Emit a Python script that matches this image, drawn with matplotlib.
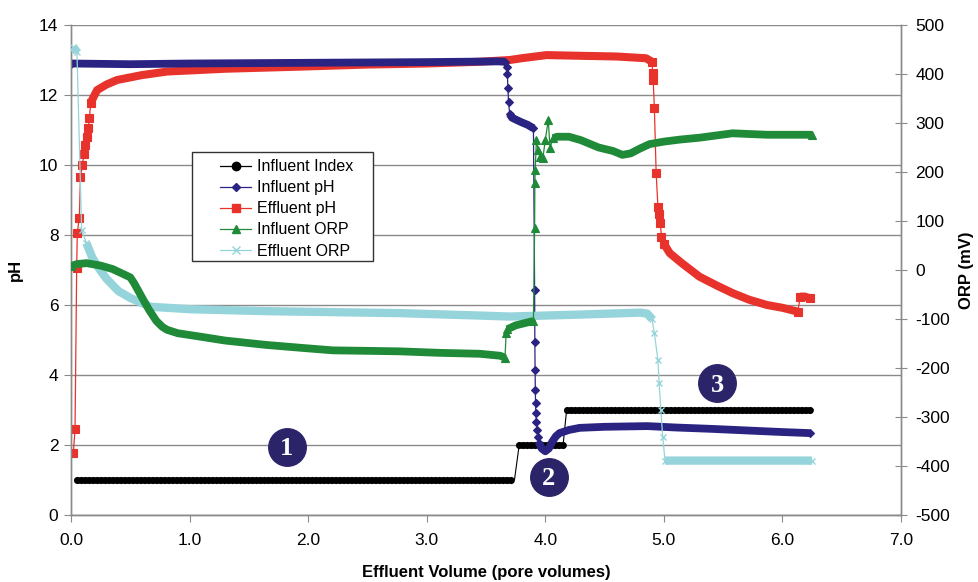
import numpy as np
import matplotlib
matplotlib.use("Agg")
import matplotlib.pyplot as plt
from matplotlib.lines import Line2D
from matplotlib.patches import Rectangle

plt.rcParams['font.family'] = ['Liberation Sans', 'DejaVu Sans']
plt.rcParams['axes.unicode_minus'] = False

# ---------------- data ----------------
# Influent Index: runs of constant value
idx_start = [0.05, 3.78, 4.18]
idx_end = [3.74, 4.15, 6.26]
idx_val = [1, 2, 3]

# Influent pH
inf_ph_x = [0.0, 0.5, 1.0, 2.0, 3.0, 3.6, 3.66, 3.675, 3.68, 3.685, 3.69, 3.70, 3.72, 3.75,
            3.80, 3.85, 3.90, 3.91, 3.912, 3.914, 3.916, 3.918, 3.92, 3.925, 3.93, 3.94,
            3.95, 3.97, 4.0, 4.03, 4.06, 4.09, 4.12, 4.2, 4.29, 4.5, 4.86, 5.1, 5.41,
            5.8, 6.0, 6.23]
inf_ph_y = [12.9, 12.88, 12.9, 12.92, 12.94, 12.96, 12.95, 12.8, 12.6, 12.2, 11.8, 11.45,
            11.35, 11.3, 11.22, 11.15, 11.05, 6.43, 4.95, 4.14, 3.57, 3.2, 2.91, 2.67, 2.43,
            2.24, 2.05, 1.9, 1.82, 1.9, 2.1, 2.25, 2.34, 2.43, 2.49, 2.52, 2.54, 2.5, 2.46,
            2.4, 2.37, 2.34]

# Effluent pH
eff_ph_x = [0.02, 0.034, 0.048, 0.053, 0.07, 0.08, 0.095, 0.11, 0.12, 0.135, 0.145, 0.155,
            0.166, 0.22, 0.3, 0.39, 0.6, 0.81, 1.3, 1.93, 2.5, 3.0, 3.45, 3.7, 3.8, 4.01,
            4.3, 4.6, 4.85, 4.9, 4.905, 4.91, 4.92, 4.935, 4.95, 4.96, 4.97, 4.98, 5.0,
            5.05, 5.15, 5.3, 5.45, 5.58, 5.72, 5.87, 6.0, 6.13, 6.15, 6.19, 6.23]
eff_ph_y = [1.78, 2.45, 7.06, 8.07, 8.48, 9.67, 10.0, 10.31, 10.57, 10.81, 11.05, 11.33,
            11.78, 12.14, 12.3, 12.43, 12.57, 12.67, 12.75, 12.81, 12.87, 12.9, 12.95, 13.0,
            13.05, 13.14, 13.12, 13.1, 13.05, 12.95, 12.62, 12.43, 11.63, 9.77, 8.81, 8.6,
            8.33, 7.95, 7.75, 7.48, 7.2, 6.81, 6.55, 6.34, 6.15, 6.0, 5.92, 5.81, 6.24,
            6.24, 6.19]

# Influent ORP (mV)
inf_orp_x = [0.0, 0.05, 0.13, 0.25, 0.35, 0.43, 0.5, 0.53, 0.56, 0.61, 0.66, 0.72, 0.77,
             0.81, 0.9, 1.09, 1.3, 1.65, 2.0, 2.21, 2.5, 2.77, 3.1, 3.45, 3.62, 3.66, 3.67,
             3.68, 3.75, 3.85, 3.9, 3.91, 3.912, 3.915, 3.925, 3.94, 3.955, 3.98, 4.0,
             4.025, 4.04, 4.065, 4.1, 4.2, 4.3, 4.45, 4.57, 4.65, 4.72, 4.8, 4.88, 5.0,
             5.13, 5.3, 5.58, 5.87, 6.0, 6.25]
inf_orp_y = [8, 12, 14, 9, 2, -7, -15, -26, -39, -61, -82, -104, -116, -122, -129, -136,
             -144, -153, -160, -164, -165, -166, -169, -171, -175, -179, -129, -121, -113,
             -107, -104, 85, 177, 204, 265, 245, 231, 229, 265, 306, 249, 269, 272, 272,
             265, 250, 243, 235, 238, 248, 257, 262, 266, 270, 279, 276, 276, 276]

# Effluent ORP (mV)
eff_orp_x = [0.02, 0.035, 0.05, 0.09, 0.13, 0.18, 0.245, 0.3, 0.4, 0.5, 0.67, 1.0,
             1.65, 2.77, 3.45, 3.7, 4.29, 4.8, 4.86, 4.9, 4.92, 4.95, 4.96, 4.975, 4.99,
             5.01, 5.1, 6.25]
eff_orp_y = [455, 450, 445, 81, 55, 25, 0, -18, -43, -57, -75, -80, -84, -88, -93,
             -95, -91, -87, -89, -100, -129, -184, -231, -286, -340, -389, -389, -389]

# numbered call-outs (pH-axis coordinates)
callout_x = [1.82, 4.03, 5.45]
callout_y = [1.95, 1.09, 3.76]
callout_txt = ['1', '2', '3']

x_ticks = [0.0, 1.0, 2.0, 3.0, 4.0, 5.0, 6.0, 7.0]
ph_ticks = [0, 2, 4, 6, 8, 10, 12, 14]
orp_ticks = [-500, -400, -300, -200, -100, 0, 100, 200, 300, 400, 500]

# ---------------- styling ----------------
C_IDX = '#000000'
C_INPH = '#2b2382'
C_EFPH = '#e8332c'
C_INORP = '#1f8a38'
C_EFORP = '#95d4da'
C_CALL = '#2b2468'
GRID = '#8a8a8a'

fig = plt.figure(figsize=(9.79, 5.82), dpi=100)
ax = fig.add_axes([71 / 979, 67 / 582, 830 / 979, 490 / 582])
ax2 = ax.twinx()

ax.set_xlim(0, 7)
ax.set_ylim(0, 14)
ax2.set_ylim(-500, 500)

ax.spines['top'].set_visible(False)
ax2.spines['top'].set_visible(False)
for a in (ax, ax2):
    for s in a.spines.values():
        s.set_color(GRID)
        s.set_linewidth(1.0)

ax.set_yticks(ph_ticks)
ax.set_xticks(x_ticks)
ax.set_xticklabels([f"{v:.1f}" for v in x_ticks])
ax2.set_yticks(orp_ticks)
ax.tick_params(axis='y', direction='out', length=5, color=GRID, labelsize=12.5, pad=4)
ax.tick_params(axis='x', direction='out', length=5, color=GRID, labelsize=12.5, pad=8)
ax2.tick_params(axis='y', direction='inout', length=9, color=GRID, labelsize=12.5, pad=6)
ax.grid(axis='y', color=GRID, linewidth=1.0)
ax.set_axisbelow(True)
ax.set_xlabel('Effluent Volume (pore volumes)', fontsize=12, fontweight='bold', labelpad=12)
ax.set_ylabel('pH', fontsize=12, fontweight='bold', labelpad=12)
ax2.set_ylabel('ORP (mV)', fontsize=12, fontweight='bold', labelpad=6)

fig.canvas.draw()


def band(a, xs, ys, ratio=2.6):
    """Split the series into dense (shallow) runs drawn as a thick band, and sparse points."""
    pts = a.transData.transform(np.column_stack([xs, ys]))
    n = len(xs)
    inband = [False] * (n - 1)
    for i in range(n - 1):
        dx = abs(pts[i + 1, 0] - pts[i, 0])
        dy = abs(pts[i + 1, 1] - pts[i, 1])
        inband[i] = dy <= ratio * dx
    bx, by = [], []
    for i in range(n - 1):
        if inband[i]:
            if i > 0 and inband[i - 1]:
                bx.append(xs[i + 1]); by.append(ys[i + 1])
            else:
                if bx:
                    bx.append(np.nan); by.append(np.nan)
                bx += [xs[i], xs[i + 1]]; by += [ys[i], ys[i + 1]]
    mx, my = [], []
    for i in range(n):
        left = inband[i - 1] if i > 0 else False
        right = inband[i] if i < n - 1 else False
        if not (left and right):
            mx.append(xs[i]); my.append(ys[i])
    return bx, by, mx, my


def series(a, xs, ys, color, marker, ms, band_lw, z, mew=0.8):
    a.plot(xs, ys, color=color, lw=0.9, zorder=z)
    bx, by, mx, my = band(a, xs, ys)
    a.plot(bx, by, color=color, lw=band_lw, solid_capstyle='butt',
           solid_joinstyle='round', zorder=z)
    a.plot(mx, my, ls='none', marker=marker, ms=ms, color=color, mec=color,
           mew=mew, zorder=z)


# Influent index: chain of dots for each run plus thin connectors
ix, iy = [], []
for s, e, v in zip(idx_start, idx_end, idx_val):
    ix += [s, e]
    iy += [v, v]
ax.plot(ix, iy, color=C_IDX, lw=0.8, zorder=3)
for s, e, v in zip(idx_start, idx_end, idx_val):
    ax.plot([s, e], [v, v], color=C_IDX, lw=5.2, ls=(0, (0.001, 0.55)),
            dash_capstyle='round', zorder=3)

series(ax, inf_ph_x, inf_ph_y, C_INPH, 'D', 4.2, 5.6, 4)
series(ax, eff_ph_x, eff_ph_y, C_EFPH, 's', 5.2, 5.8, 3.5)
series(ax2, inf_orp_x, inf_orp_y, C_INORP, '^', 5.6, 5.6, 3)
series(ax2, eff_orp_x, eff_orp_y, C_EFORP, 'x', 5.0, 6.0, 2.8, mew=1.0)

# numbered call-outs
for cx, cy, t in zip(callout_x, callout_y, callout_txt):
    ax2.plot([cx], [cy], marker='o', ms=27, color=C_CALL, mec=C_CALL,
             transform=ax.transData, zorder=10, clip_on=False)
    ax2.text(cx, cy - 0.05, t, transform=ax.transData, color='white', fontsize=19,
             fontweight='bold', family='Liberation Serif', ha='center', va='center',
             zorder=11)

# legend box
ax2.add_patch(Rectangle((0.1458, 0.518), 0.218, 0.223, transform=ax.transAxes,
                        facecolor='white', edgecolor='#333333', lw=1.0, zorder=12))
handles = [
    Line2D([], [], color=C_IDX, lw=0.9, marker='o', ms=6),
    Line2D([], [], color=C_INPH, lw=0.9, marker='D', ms=4.5),
    Line2D([], [], color=C_EFPH, lw=0.9, marker='s', ms=5.5),
    Line2D([], [], color=C_INORP, lw=0.9, marker='^', ms=6),
    Line2D([], [], color=C_EFORP, lw=0.9, marker='x', ms=5.5, mew=1.0),
]
labels = ['Influent Index', 'Influent pH', 'Effluent pH', 'Influent ORP', 'Effluent ORP']
leg = ax2.legend(handles, labels, loc='upper left', bbox_to_anchor=(0.18, 0.726),
                 bbox_transform=ax.transAxes, frameon=False, fontsize=11.5,
                 handlelength=1.9, handletextpad=0.4, labelspacing=0.38, borderpad=0,
                 borderaxespad=0)
leg.set_zorder(13)

fig.savefig('out.png', dpi=100)
